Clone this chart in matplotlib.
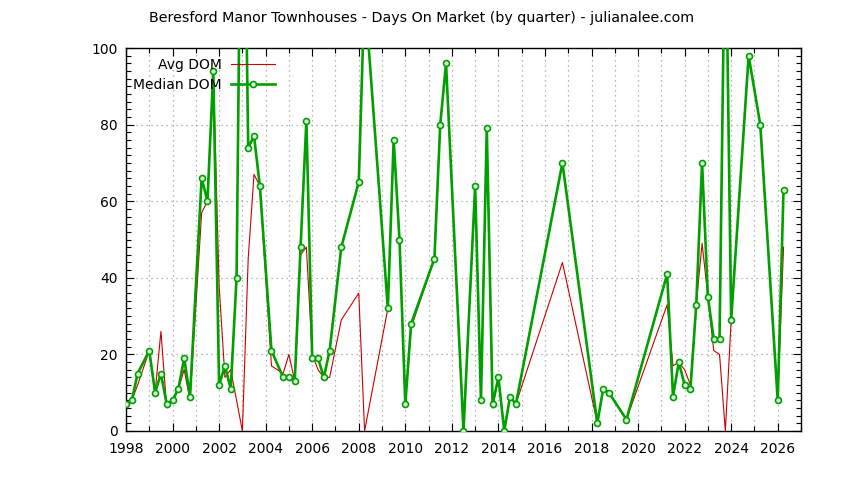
import matplotlib
matplotlib.use("Agg")
import matplotlib.pyplot as plt
from matplotlib.ticker import MultipleLocator

plt.rcParams['font.family'] = ['DejaVu Sans']

# Quarter positions (decimal years)
quarters = [1998.0, 1998.25, 1998.5, 1999.0, 1999.25, 1999.5, 1999.75,
            2000.0, 2000.25, 2000.5, 2000.75, 2001.25, 2001.5, 2001.75,
            2002.0, 2002.25, 2002.5, 2002.75, 2003.0, 2003.25, 2003.5, 2003.75,
            2004.25, 2004.75, 2005.0, 2005.25, 2005.5, 2005.75,
            2006.0, 2006.25, 2006.5, 2006.75, 2007.25, 2008.0, 2008.25,
            2009.25, 2009.5, 2009.75, 2010.0, 2010.25,
            2011.25, 2011.5, 2011.75, 2012.5,
            2013.0, 2013.25, 2013.5, 2013.75,
            2014.0, 2014.25, 2014.5, 2014.75, 2016.75,
            2018.25, 2018.5, 2018.75, 2019.5,
            2021.25, 2021.5, 2021.75, 2022.0, 2022.25, 2022.5, 2022.75,
            2023.0, 2023.25, 2023.5, 2023.75, 2024.0, 2024.75, 2025.25,
            2026.0, 2026.25]

avg_dom = [7, 8, 12, 21, 10, 26, 6,
           8, 11, 16, 8, 57, 60, 94,
           38, 14, 16, 8, 0, 45, 67, 64,
           17, 15, 20, 13, 46, 48,
           20, 16, 14, 14, 29, 36, 0,
           32, 76, 50, 7, 27,
           45, 80, 96, 0,
           64, 8, 79, 6,
           14, 0, 9, 7, 44,
           2, 11, 10, 3,
           33, 17, 18, 16, 12, 33, 49,
           35, 21, 20, 0, 29, 98, 80,
           8, 48]

median_dom = [7, 8, 15, 21, 10, 15, 7,
              8, 11, 19, 9, 66, 60, 94,
              12, 17, 11, 40, 185, 74, 77, 64,
              21, 14, 14, 13, 48, 81,
              19, 19, 14, 21, 48, 65, 115,
              32, 76, 50, 7, 28,
              45, 80, 96, 0,
              64, 8, 79, 7,
              14, 0, 9, 7, 70,
              2, 11, 10, 3,
              41, 9, 18, 12, 11, 33, 70,
              35, 24, 24, 140, 29, 98, 80,
              8, 63]

title = "Beresford Manor Townhouses - Days On Market (by quarter) - julianalee.com"

fig = plt.figure(figsize=(8.44, 4.80), dpi=100)
ax = fig.add_axes([126/844, 1 - 431/480, (801-126)/844, (431-48)/480])

ax.plot(quarters, avg_dom, color='#cc0000', lw=0.8, label='Avg DOM', zorder=3)
ax.plot(quarters, median_dom, color='#00a000', lw=1.9, marker='o', ms=4.3,
        mfc='#d8f0d8', mec='#00a000', mew=1.2, label='Median DOM', zorder=4)

ax.set_xlim(1998, 2027)
ax.set_ylim(0, 100)
ax.xaxis.set_major_locator(MultipleLocator(2))
ax.xaxis.set_minor_locator(MultipleLocator(1))
ax.yaxis.set_major_locator(MultipleLocator(20))
ax.yaxis.set_minor_locator(MultipleLocator(2))

gridkw = dict(color='#a0a0a0', linestyle=(0, (1, 3)), linewidth=0.9)
ax.grid(True, which='major', axis='both', **gridkw)
ax.grid(True, which='minor', axis='x', **gridkw)
ax.set_axisbelow(True)

ax.tick_params(which='both', direction='in', top=True, right=True, labelsize=10, color='black')
ax.tick_params(which='major', length=6, width=0.8)
ax.tick_params(which='minor', length=3.5, width=0.8)
ax.tick_params(axis='x', pad=8)
ax.tick_params(axis='y', pad=6)
for s in ax.spines.values():
    s.set_linewidth(1.0)

leg = ax.legend(loc='upper left', bbox_to_anchor=(0.0104, 0.974), borderaxespad=0,
                borderpad=0, frameon=False, markerfirst=False, fontsize=10,
                handlelength=3.2, handletextpad=0.65, labelspacing=0.45)

fig.text(0.5, 1 - 18/480, title, ha='center', va='center', fontsize=10.25)

fig.savefig('out.png', dpi=100)
